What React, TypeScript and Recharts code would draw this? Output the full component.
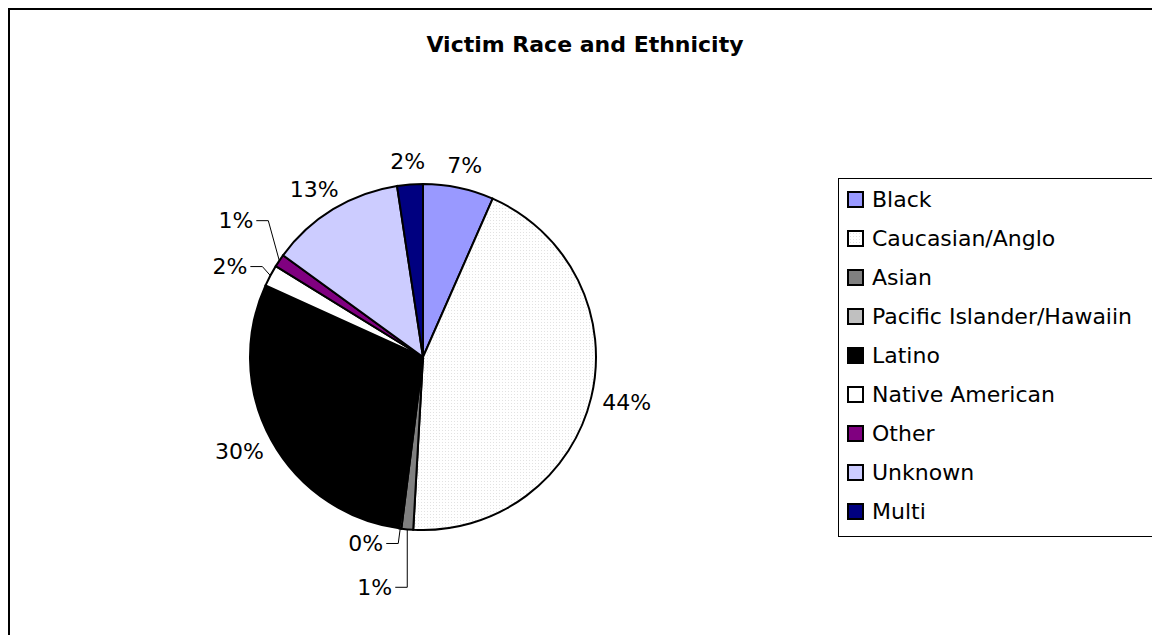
import React from 'react';
import { PieChart, Pie, Cell, Legend } from 'recharts';

const categories = [
  'Black',
  'Caucasian/Anglo',
  'Asian',
  'Pacific Islander/Hawaiin',
  'Latino',
  'Native American',
  'Other',
  'Unknown',
  'Multi',
];
const shares = [6.6, 44.3, 1.1, 0.2, 29.6, 2.0, 1.2, 12.6, 2.4];
const colors = [
  '#9999FF',
  'url(#caucasianDots)',
  '#808080',
  '#C0C0C0',
  '#000000',
  '#FFFFFF',
  '#800080',
  '#CCCCFF',
  '#000080',
];

const data = categories.map((name, i) => ({ name, value: shares[i] }));

const FONT = '"DejaVu Sans", Verdana, sans-serif';
const FS = 22;
const RADIAN = Math.PI / 180;

// elbow offsets (from slice edge) for the small slices that use a leader line
const leaders: Record<string, [number, number]> = {
  Asian: [0, 58],
  'Pacific Islander/Hawaiin': [-2, 15],
  'Native American': [-8, -9],
  Other: [-11, -40],
};

const renderLabel = (props: any) => {
  const { cx, cy, midAngle, outerRadius, percent } = props;
  const name = props.payload?.name ?? props.name;
  const ux = Math.cos(-midAngle * RADIAN);
  const uy = Math.sin(-midAngle * RADIAN);
  const text = `${Math.round(percent * 100)}%`;
  const leader = leaders[name];
  if (leader) {
    const ex = cx + outerRadius * ux;
    const ey = cy + outerRadius * uy;
    const bx = ex + leader[0];
    const by = ey + leader[1];
    const tx = bx - 12;
    return (
      <g>
        <polyline
          points={`${ex},${ey} ${bx},${by} ${tx},${by}`}
          fill="none"
          stroke="#000"
          strokeWidth={1}
        />
        <text
          x={tx - 3}
          y={by}
          textAnchor="end"
          dominantBaseline="central"
          fontFamily={FONT}
          fontSize={FS}
          fill="#000"
        >
          {text}
        </text>
      </g>
    );
  }
  const r = outerRadius + 12;
  const w = (text.length - 1) * 0.636 * FS + 0.95 * FS;
  const h = FS;
  const x = cx + r * ux + (w / 2) * ux;
  const y = cy + r * uy + (h / 2) * uy;
  return (
    <text
      x={x}
      y={y}
      textAnchor="middle"
      dominantBaseline="central"
      fontFamily={FONT}
      fontSize={FS}
      fill="#000"
    >
      {text}
    </text>
  );
};

// keep the legend in data order (recharts sorts the payload by name)
const renderLegend = () => (
  <div
    style={{
      boxSizing: 'border-box',
      width: 317,
      height: 359,
      border: '1px solid #000',
      background: '#fff',
      paddingTop: 1,
      fontFamily: FONT,
      fontSize: FS,
      color: '#000',
    }}
  >
    {categories.map((name, i) => (
      <div key={name} style={{ display: 'flex', alignItems: 'center', height: 39 }}>
        <svg width={17} height={17} style={{ marginLeft: 8, flex: 'none' }}>
          <rect
            x={1}
            y={1}
            width={15}
            height={15}
            fill={colors[i]}
            stroke="#000"
            strokeWidth={2}
          />
        </svg>
        <span style={{ marginLeft: 8, whiteSpace: 'nowrap' }}>{name}</span>
      </div>
    ))}
  </div>
);

const App: React.FC = () => {
  return (
    <div
      style={{
        position: 'relative',
        width: 1150,
        height: 625,
        borderLeft: '2px solid #000',
        borderTop: '2px solid #000',
        background: '#fff',
      }}
    >
      <style>{'body{overflow:hidden}'}</style>
      <PieChart width={1150} height={625} margin={{ top: 0, right: 0, bottom: 0, left: 0 }}>
        <defs>
          <pattern id="caucasianDots" width={3} height={3} patternUnits="userSpaceOnUse">
            <rect width={3} height={3} fill="#ffffff" />
            <rect width={1} height={1} fill="#e2e2e2" />
          </pattern>
        </defs>
        <Pie
          data={data}
          dataKey="value"
          nameKey="name"
          cx={413}
          cy={347}
          outerRadius={173}
          startAngle={90}
          endAngle={-270}
          stroke="#000"
          strokeWidth={2}
          label={renderLabel}
          labelLine={false}
          isAnimationActive={false}
        >
          {data.map((d, i) => (
            <Cell key={d.name} fill={colors[i]} />
          ))}
        </Pie>
        <Legend
          layout="vertical"
          align="right"
          verticalAlign="middle"
          content={renderLegend}
          wrapperStyle={{ left: 828, top: 168, width: 317, height: 359 }}
        />
      </PieChart>
      <div
        style={{
          position: 'absolute',
          left: 0,
          top: 22,
          width: 1150,
          textAlign: 'center',
          fontFamily: FONT,
          fontWeight: 'bold',
          fontSize: FS,
          lineHeight: '26px',
          color: '#000',
        }}
      >
        Victim Race and Ethnicity
      </div>
    </div>
  );
};

export default App;
